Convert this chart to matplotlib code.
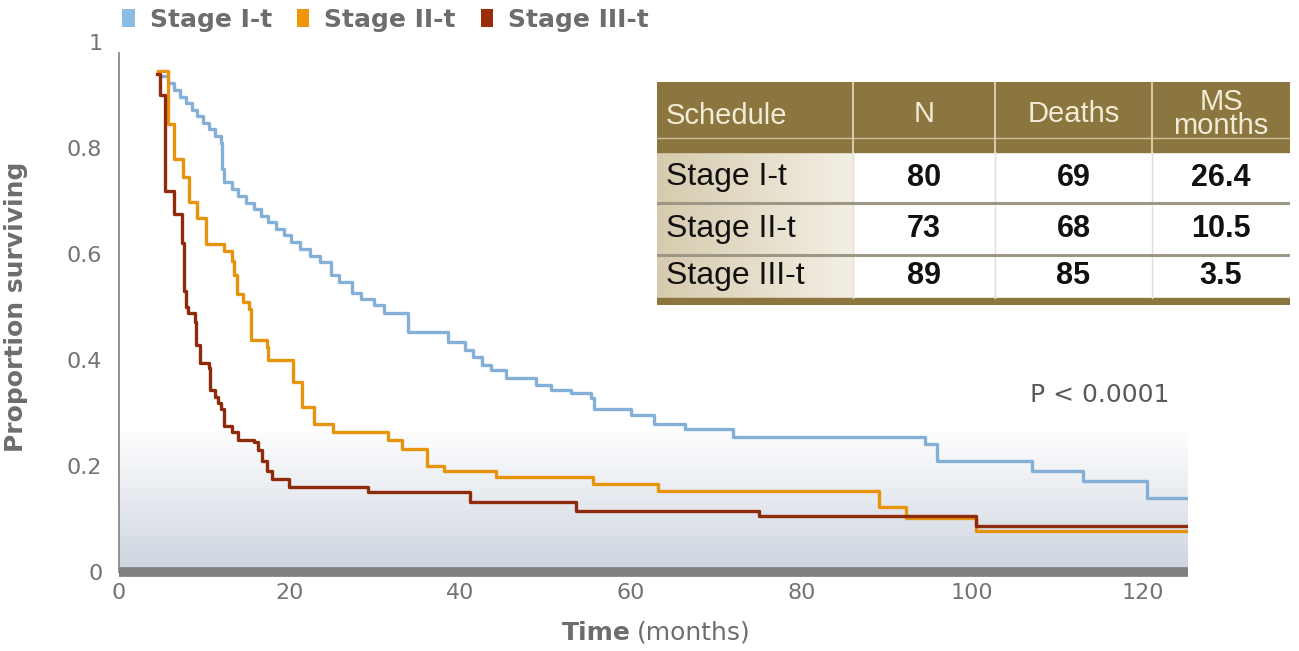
import numpy as np
import matplotlib.pyplot as plt
from matplotlib.patches import Patch, Rectangle
from matplotlib.colors import LinearSegmentedColormap

# Kaplan-Meier estimates read per group: time of each drop (months) and survival after it
stage1_t = [5.0, 5.7, 6.4, 7.1, 7.8, 8.5, 9.2, 9.9, 10.6, 11.3, 11.9, 12.1, 12.3, 13.2, 14.0,
            14.9, 15.8, 16.6, 17.5, 18.4, 19.3, 20.2, 21.2, 22.4, 23.6, 24.9, 25.8, 27.3, 28.4,
            29.9, 31.1, 33.9, 38.6, 40.6, 41.5, 42.5, 43.6, 45.4, 48.9, 50.6, 53.0, 55.3, 55.7,
            60.0, 62.7, 66.4, 72.0, 94.5, 95.9, 107.0, 113.0, 120.5, 125.3]
stage1_s = [0.935, 0.922, 0.91, 0.897, 0.885, 0.872, 0.86, 0.847, 0.835, 0.822, 0.81, 0.76,
            0.735, 0.722, 0.71, 0.697, 0.685, 0.672, 0.66, 0.647, 0.635, 0.622, 0.61, 0.597,
            0.585, 0.56, 0.547, 0.527, 0.515, 0.503, 0.488, 0.452, 0.434, 0.419, 0.405, 0.391,
            0.381, 0.366, 0.353, 0.344, 0.338, 0.329, 0.307, 0.297, 0.279, 0.269, 0.254, 0.241,
            0.209, 0.191, 0.172, 0.14, 0.14]

stage2_t = [4.6, 5.7, 6.5, 7.5, 8.2, 9.2, 10.2, 12.3, 13.2, 13.5, 13.8, 14.5, 15.2, 15.5, 17.3,
            17.5, 20.4, 21.5, 22.9, 25.1, 31.5, 33.2, 36.1, 38.1, 44.2, 55.6, 63.2, 89.1, 92.3,
            100.4, 125.3]
stage2_s = [0.945, 0.845, 0.779, 0.746, 0.699, 0.667, 0.619, 0.606, 0.587, 0.56, 0.525, 0.51,
            0.497, 0.437, 0.424, 0.40, 0.359, 0.312, 0.279, 0.265, 0.25, 0.232, 0.20, 0.191,
            0.179, 0.166, 0.153, 0.123, 0.101, 0.077, 0.077]

stage3_t = [4.5, 4.8, 5.4, 6.5, 7.4, 7.6, 7.9, 8.1, 8.9, 9.0, 9.5, 10.5, 10.7, 11.2, 11.6, 12.0,
            12.3, 13.2, 14.0, 15.8, 16.3, 16.8, 17.3, 17.9, 19.9, 29.2, 41.1, 53.6, 75.0, 100.4,
            125.3]
stage3_s = [0.94, 0.90, 0.718, 0.675, 0.62, 0.53, 0.50, 0.488, 0.471, 0.428, 0.394, 0.385, 0.344,
            0.33, 0.318, 0.307, 0.275, 0.265, 0.25, 0.245, 0.23, 0.21, 0.19, 0.176, 0.161, 0.151,
            0.133, 0.116, 0.105, 0.086, 0.086]

groups = ["Stage I-t", "Stage II-t", "Stage III-t"]
colors = ["#84afd6", "#e8930c", "#8e2b0c"]
legend_colors = ["#8dbde2", "#f0950a", "#9a2d08"]

# summary table
table_header = ["Schedule", "N", "Deaths", "MS\nmonths"]
n_patients = [80, 73, 89]
n_deaths = [69, 68, 85]
median_surv = ["26.4", "10.5", "3.5"]

x_ticks = [0, 20, 40, 60, 80, 100, 120]
y_ticks = [0, 0.2, 0.4, 0.6, 0.8, 1]
y_ticklabels = ["0", "0.2", "0.4", "0.6", "0.8", "1"]
x_max = 125.3

W, H = 1299, 651
grey = "#6d6d6d"

fig = plt.figure(figsize=(W / 100, H / 100), dpi=100)
ax = fig.add_axes([119 / W, 79 / H, 1069 / W, 530 / H])

# soft grey-blue band at the bottom of the plot, white at its top edge
band = LinearSegmentedColormap.from_list("band", ["#ffffff", "#cdd4df"])
ax.imshow(np.linspace(0, 1, 200)[:, None], extent=[0, x_max, 0, 0.27], origin="upper",
          aspect="auto", cmap=band, zorder=0)

for t, s, c in zip([stage1_t, stage2_t, stage3_t], [stage1_s, stage2_s, stage3_s], colors):
    ax.step(t, s, where="post", color=c, lw=2.4, zorder=3)

ax.set_xlim(0, x_max)
ax.set_ylim(0, 1)
ax.set_xticks(x_ticks)
ax.set_yticks(y_ticks)
ax.set_yticklabels(y_ticklabels)
ax.tick_params(axis="both", length=0, labelsize=16, labelcolor="#737373")
ax.tick_params(axis="y", pad=12)
ax.tick_params(axis="x", pad=8)

for side in ["top", "right"]:
    ax.spines[side].set_visible(False)
ax.spines["left"].set_color("#8a8a8a")
ax.spines["left"].set_linewidth(1.3)
ax.spines["left"].set_bounds(0, 0.98)
ax.spines["bottom"].set_color("#7f7f7f")
ax.spines["bottom"].set_linewidth(7)
ax.spines["bottom"].set_capstyle("butt")

ax.set_ylabel("Proportion surviving", fontsize=18, fontweight="bold", color=grey)
ax.yaxis.set_label_coords(-0.085, 0.5)

ax.text(0.479, -0.115, "Time", transform=ax.transAxes, ha="right", va="center",
        fontsize=18, fontweight="bold", color=grey)
ax.text(0.484, -0.115, "(months)", transform=ax.transAxes, ha="left", va="center",
        fontsize=18, color=grey)

ax.text(106.8, 0.334, "P < 0.0001", ha="left", va="center", fontsize=18, color="#5a5a5a")

handles = [Patch(facecolor=c, edgecolor="none") for c in legend_colors]
fig.legend(handles, groups, loc="center left", bbox_to_anchor=(122 / W, 1 - 20 / H), ncol=3,
           frameon=False, prop={"weight": "bold", "size": 18}, labelcolor=grey,
           handlelength=0.5, handleheight=0.75, handletextpad=0.6, columnspacing=1.0,
           borderpad=0, borderaxespad=0)

# table, drawn in pixel units
tx0, tx1, ty0, ty1 = 657, 1290, 82, 305
tab = fig.add_axes([tx0 / W, 1 - ty1 / H, (tx1 - tx0) / W, (ty1 - ty0) / H])

col_edges = [657, 853, 995, 1152, 1290]
row_edges = [82, 152, 203, 255, 298]
olive = "#8b763f"
cream = "#f2ebd6"
tfont = "Liberation Sans"

beige = LinearSegmentedColormap.from_list("beige", ["#d6cbae", "#f3efe4"])
tab.imshow(np.linspace(0, 1, 100)[None, :], extent=[657, 853, 298, 152], aspect="auto",
           cmap=beige, zorder=0)
tab.set_xlim(tx0, tx1)
tab.set_ylim(ty1, ty0)
tab.axis("off")

tab.add_patch(Rectangle((tx0, 82), tx1 - tx0, 70, color=olive, zorder=1))
tab.add_patch(Rectangle((tx0, 298), tx1 - tx0, 7, color=olive, zorder=1))

tab.plot([tx0, tx1], [138, 138], color="#cbbf9c", lw=1, zorder=2)
for x in col_edges[1:-1]:
    tab.plot([x, x], [82, 152], color="#d5caa8", lw=1.5, zorder=2)
    tab.plot([x, x], [152, 298], color="#e2ded2", lw=1, zorder=2)
for y in row_edges[2:4]:
    tab.plot([tx0, tx1], [y, y], color="#9d9786", lw=2.2, zorder=2)

col_centers = [(a + b) / 2 for a, b in zip(col_edges[:-1], col_edges[1:])]
tab.text(666, 116, table_header[0], ha="left", va="center", fontsize=21, color=cream,
         family=tfont)
for cx, label in zip(col_centers[1:], table_header[1:]):
    tab.text(cx, 114, label, ha="center", va="center", fontsize=21, color=cream,
             family=tfont, linespacing=0.8)

row_centers = [(a + b) / 2 for a, b in zip(row_edges[1:-1], row_edges[2:])]
for i, yc in enumerate(row_centers):
    tab.text(666, yc, groups[i], ha="left", va="center", fontsize=23, color="#111111",
             family=tfont)
    vals = [str(n_patients[i]), str(n_deaths[i]), median_surv[i]]
    for cx, v in zip(col_centers[1:], vals):
        tab.text(cx, yc, v, ha="center", va="center", fontsize=22, fontweight="bold",
                 color="#111111", family=tfont)

fig.savefig("out.png", dpi=100)
